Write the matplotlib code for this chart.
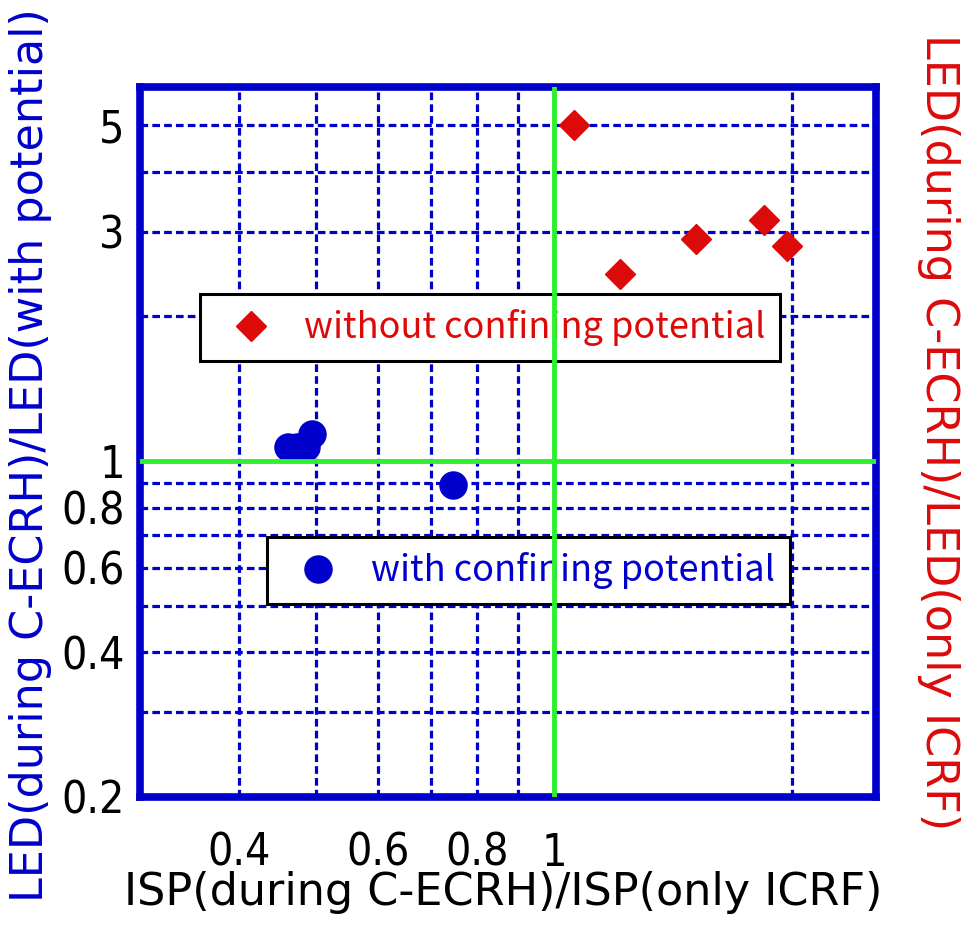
import matplotlib.pyplot as plt
from matplotlib.lines import Line2D

# data (log-log)
with_x = [0.461, 0.474, 0.486, 0.495, 0.745]
with_y = [1.07, 1.07, 1.07, 1.14, 0.89]
without_x = [1.06, 1.21, 1.51, 1.84, 1.97]
without_y = [5.0, 2.45, 2.9, 3.17, 2.8]

xticks = [0.4, 0.6, 0.8, 1]
xtick_labels = ['0.4', '0.6', '0.8', '1']
xgrid_minor = [0.5, 0.7, 0.9, 2]
yticks = [0.2, 0.4, 0.6, 0.8, 1, 3, 5]
ytick_labels = ['0.2', '0.4', '0.6', '0.8', '1', '3', '5']
ygrid_minor = [0.3, 0.5, 0.7, 0.9, 2, 4]

blue = '#0000cc'
red = '#dd0a0a'
green = '#2ef02e'
tick_font = {'family': 'DejaVu Sans', 'stretch': 'condensed', 'size': 32}
label_font = {'family': 'DejaVu Sans', 'size': 32}
legend_font = {'family': ['Noto Sans CJK JP', 'DejaVu Sans'], 'size': 26}

fig = plt.figure(figsize=(9.63, 9.25), dpi=100)
ax = fig.add_axes([140/963, 1-797/925, (876-140)/963, (797-87)/925])
ax.set_xscale('log')
ax.set_yscale('log')
ax.set_xlim(0.3, 2.55)
ax.set_ylim(0.2, 6)

ax.set_xticks(xticks)
ax.set_xticklabels(xtick_labels, fontdict=tick_font)
ax.set_xticks(xgrid_minor, minor=True)
ax.set_xticklabels([], minor=True)
ax.set_yticks(yticks)
ax.set_yticklabels(ytick_labels, fontdict=tick_font)
ax.set_yticks(ygrid_minor, minor=True)
ax.set_yticklabels([], minor=True)
ax.tick_params(which='both', length=0)
ax.tick_params(axis='x', pad=25)
ax.tick_params(axis='y', pad=11)

ax.grid(True, which='both', color=blue, lw=2.3, linestyle=(0, (2.4, 1.3)))
ax.set_axisbelow(True)
for sp in ax.spines.values():
    sp.set_color(blue)
    sp.set_linewidth(5.5)

# green reference lines sit on top of everything, legends included
ax.axvline(1, color=green, lw=3.5, zorder=6)
ax.axhline(1, color=green, lw=3.5, zorder=6)

ax.plot(with_x, with_y, 'o', color=blue, ms=19.5, zorder=3)
ax.plot(without_x, without_y, 'D', color=red, ms=15.5, zorder=3)

h_without = Line2D([], [], marker='D', color=red, ls='none', ms=15.5)
h_with = Line2D([], [], marker='o', color=blue, ls='none', ms=19.5)
leg_kw = dict(loc='upper left', bbox_transform=fig.transFigure, prop=legend_font,
              fancybox=False, edgecolor='black', framealpha=1, borderpad=0.42,
              handlelength=2.0, handletextpad=0.45, borderaxespad=0)
leg1 = ax.legend([h_without], ['without confining potential'],
                 bbox_to_anchor=(200/963, 1-294/925), **leg_kw)
leg1.get_frame().set_linewidth(2.2)
leg1.get_texts()[0].set_color(red)
ax.add_artist(leg1)
leg2 = ax.legend([h_with], ['with confining potential'],
                 bbox_to_anchor=(267/963, 1-537/925), **leg_kw)
leg2.get_frame().set_linewidth(2.2)
leg2.get_texts()[0].set_color(blue)

fig.text(503/963, 1-893/925, 'ISP(during C-ECRH)/ISP(only ICRF)', ha='center', va='center',
         fontdict=label_font)
fig.text(31/963, 1-455/925, 'LED(during C-ECRH)/LED(with potential)', ha='center', va='center',
         rotation=90, color=blue, fontdict=label_font)
fig.text(938/963, 1-432/925, 'LED(during C-ECRH)/LED(only ICRF)', ha='center', va='center',
         rotation=270, color=red, fontdict=label_font)

fig.savefig('out.png', dpi=100)
